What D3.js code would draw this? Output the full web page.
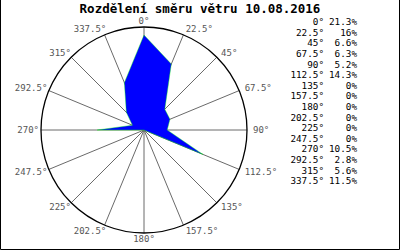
<!DOCTYPE html>
<meta charset="utf-8">
<script src="https://d3js.org/d3.v7.min.js"></script>
<style>
  body { margin: 0; background: #fff; }
  text { font-family: "DejaVu Sans Mono", monospace; }
</style>
<div id="chart"></div>
<script>

// wind directions (degrees) and share of time (%)
var directions = [0, 22.5, 45, 67.5, 90, 112.5, 135, 157.5, 180, 202.5, 225, 247.5, 270, 292.5, 315, 337.5];
var shares = [21.3, 16, 6.6, 6.3, 5.2, 14.3, 0, 0, 0, 0, 0, 0, 10.5, 2.8, 5.6, 11.5];
var shareLabels = ["21.3%", "16%", "6.6%", "6.3%", "5.2%", "14.3%", "0%", "0%", "0%", "0%", "0%", "0%", "10.5%", "2.8%", "5.6%", "11.5%"];
var title = "Rozdělení směru větru 10.08.2016";

var width = 400,
    height = 250,
    cx = 144, cy = 130, radius = 103;

var svg = d3.select("#chart")
  .append("svg")
    .attr("width", width)
    .attr("height", height);

// frame
svg.append("path")
  .attr("d", "M0.5,0 V" + (height - 0.5) + " H" + (width - 0.5) + " V0")
  .attr("fill", "none")
  .attr("stroke", "#000");

svg.append("text")
  .attr("x", 200)
  .attr("y", 13)
  .attr("text-anchor", "middle")
  .style("font-size", "12.5px")
  .style("font-weight", "bold")
  .text(title);

var r = d3.scaleLinear().domain([0, 23.1]).range([0, radius]);
var angle = function(d) { return d * Math.PI / 180; };

var g = svg.append("g").attr("transform", "translate(" + cx + "," + cy + ")");

// spokes
g.selectAll(".spoke")
  .data(directions)
  .enter().append("line")
    .attr("x1", 0).attr("y1", 0)
    .attr("x2", function(d) { return radius * Math.sin(angle(d)); })
    .attr("y2", function(d) { return -radius * Math.cos(angle(d)); })
    .attr("stroke", "#6a6a6a")
    .attr("stroke-width", 1);

// wind polygon
var line = d3.lineRadial()
  .angle(function(d, i) { return angle(directions[i]); })
  .radius(function(d) { return r(d); })
  .curve(d3.curveLinearClosed);

g.append("path")
  .attr("d", line(shares))
  .attr("fill", "#0000ff")
  .attr("stroke", "#00ff00")
  .attr("stroke-width", 0.4);

g.append("circle")
  .attr("r", radius)
  .attr("fill", "none")
  .attr("stroke", "#000")
  .attr("stroke-width", 1.3);

// direction labels round the circle
g.selectAll(".dirlabel")
  .data(directions)
  .enter().append("text")
    .attr("x", function(d) {
      var s = Math.sin(angle(d));
      return (radius + 6) * s + (s < -0.1 ? 4 : 0);
    })
    .attr("y", function(d) { return -(radius + 6) * Math.cos(angle(d)); })
    .attr("dy", "0.35em")
    .attr("text-anchor", function(d) {
      var s = Math.sin(angle(d));
      return s > 0.1 ? "start" : (s < -0.1 ? "end" : "middle");
    })
    .style("font-size", "9px")
    .attr("fill", "#555")
    .text(function(d) { return d + "°"; });

// legend
var legend = svg.append("g").selectAll("g")
  .data(directions)
  .enter().append("g")
    .attr("transform", function(d, i) { return "translate(0," + (22 + i * 10.6) + ")"; });

legend.append("text")
  .attr("x", 324)
  .attr("dy", "0.35em")
  .attr("text-anchor", "end")
  .style("font-size", "9.3px")
  .text(function(d) { return d + "°"; });

legend.append("text")
  .attr("x", 357)
  .attr("dy", "0.35em")
  .attr("text-anchor", "end")
  .style("font-size", "9.3px")
  .text(function(d, i) { return shareLabels[i]; });

</script>
